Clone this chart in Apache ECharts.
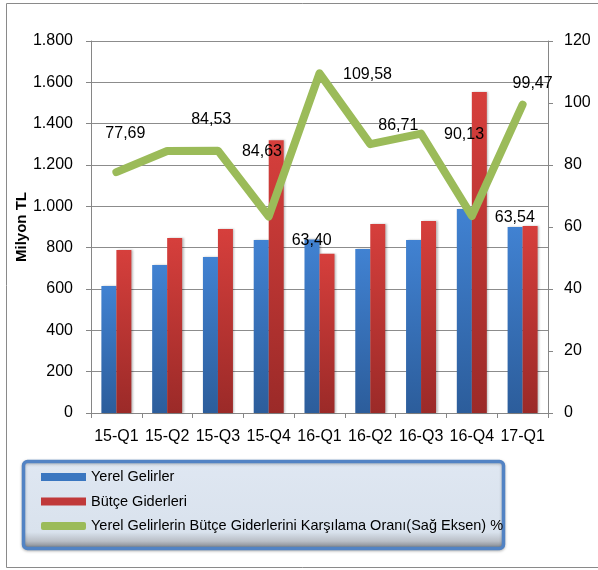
<!DOCTYPE html>
<html>
<head>
<meta charset="utf-8">
<script src="https://cdn.jsdelivr.net/npm/echarts@6/dist/echarts.min.js"></script>
<style>
html,body{margin:0;padding:0;background:#fff;}
#c{width:598px;height:570px;}
</style>
</head>
<body>
<div id="c"></div>
<script>
var categories = ['15-Q1','15-Q2','15-Q3','15-Q4','16-Q1','16-Q2','16-Q3','16-Q4','17-Q1'];
var yerelGelirler = [615, 716, 755, 837, 840, 794, 837, 987, 900];
var butceGiderleri = [789, 847, 890, 1320, 770, 915, 929, 1553, 905];
var karsilamaOrani = [77.69, 84.53, 84.63, 63.40, 109.58, 86.71, 90.13, 63.54, 99.47];
var leftTicks = {min: 0, max: 1800, interval: 200};
var rightTicks = {min: 0, max: 120, interval: 20};
var seriesNames = ['Yerel Gelirler', 'Bütçe Giderleri', 'Yerel Gelirlerin Bütçe Giderlerini Karşılama Oranı(Sağ Eksen) %'];
// label placement (style only, pixel offsets from each point)
var labelOffsets = [[9,-39],[44,-31],[44,1],[43,24],[48,1],[28,-19],[43,1],[43,2],[10,-21]];

var FONT = '"Liberation Sans", Arial, sans-serif';
var chart = echarts.init(document.getElementById('c'), null, {renderer: 'canvas'});

function grad(top, bottom) {
  return new echarts.graphic.LinearGradient(0, 0, 0, 1, [
    {offset: 0, color: top}, {offset: 1, color: bottom}
  ]);
}

var lineData = karsilamaOrani.map(function (v, i) {
  return {value: v, label: {offset: labelOffsets[i]}};
});

var option = {
  animation: false,
  backgroundColor: '#ffffff',
  textStyle: {fontFamily: FONT},
  graphic: [
    {type: 'rect', z: -10, shape: {x: 6.5, y: 3.5, width: 620, height: 564},
     style: {fill: 'none', stroke: '#8a8a8a', lineWidth: 1}},
    {type: 'rect', z: 0, shape: {x: 23.5, y: 461.5, width: 480, height: 87, r: 4},
     style: {fill: new echarts.graphic.LinearGradient(0, 0, 0, 1, [
        {offset: 0, color: '#dfe7f2'}, {offset: 0.8, color: '#d9e2ed'},
        {offset: 0.9, color: '#b9bec6'}, {offset: 1, color: '#6c7077'}]),
       stroke: '#5283c4', lineWidth: 3.5, shadowColor: 'rgba(0,0,0,0.25)', shadowBlur: 3, shadowOffsetY: 1}}
  ],
  grid: {left: 91, right: 50, top: 41, bottom: 157, containLabel: false},
  legend: {
    orient: 'vertical', left: 36, top: 464, z: 5,
    itemWidth: 45, itemHeight: 8, itemGap: 8.5,
    textStyle: {fontSize: 14.5, color: '#000', fontFamily: FONT, lineHeight: 16},
    data: [
      {name: seriesNames[0], icon: 'rect', itemStyle: {color: '#3a76c0'}},
      {name: seriesNames[1], icon: 'rect', itemStyle: {color: '#c0393a'}},
      {name: seriesNames[2], icon: 'roundRect', itemStyle: {color: '#9bbb59'}}
    ]
  },
  xAxis: {
    type: 'category', data: categories,
    axisLine: {lineStyle: {color: '#868686', width: 1}},
    axisTick: {show: true, length: 5, alignWithLabel: false, lineStyle: {color: '#868686'}},
    axisLabel: {color: '#000', fontSize: 16, margin: 16, interval: 0, fontFamily: FONT}
  },
  yAxis: [
    {
      type: 'value', min: leftTicks.min, max: leftTicks.max, interval: leftTicks.interval,
      name: 'Milyon TL', nameLocation: 'middle', nameGap: 62, nameRotate: 90, nameMoveOverlap: false,
      nameTextStyle: {fontSize: 15, fontWeight: 'bold', color: '#000', fontFamily: FONT},
      axisLine: {show: true, lineStyle: {color: '#868686'}},
      axisTick: {show: true, length: 5, lineStyle: {color: '#868686'}},
      axisLabel: {color: '#000', fontSize: 16, margin: 18, fontFamily: FONT,
        formatter: function (v) { return String(v).replace(/\B(?=(\d{3})+(?!\d))/g, '.'); }},
      splitLine: {show: true, lineStyle: {color: '#8c8c8c', width: 1}}
    },
    {
      type: 'value', min: rightTicks.min, max: rightTicks.max, interval: rightTicks.interval,
      position: 'right',
      axisLine: {show: true, lineStyle: {color: '#868686'}},
      axisTick: {show: true, length: 5, lineStyle: {color: '#868686'}},
      axisLabel: {color: '#000', fontSize: 16, margin: 16, fontFamily: FONT},
      splitLine: {show: false}
    }
  ],
  series: [
    {
      name: seriesNames[0], type: 'bar', yAxisIndex: 0, data: yerelGelirler,
      barWidth: 15, barGap: '0%',
      itemStyle: {color: grad('#4182d2', '#2c5d9b'), shadowColor: 'rgba(0,0,0,0.25)', shadowBlur: 2, shadowOffsetX: 1.5}
    },
    {
      name: seriesNames[1], type: 'bar', yAxisIndex: 0, data: butceGiderleri,
      barWidth: 15, barGap: '0%',
      itemStyle: {color: grad('#d63f3c', '#9b2a28'), shadowColor: 'rgba(0,0,0,0.25)', shadowBlur: 2, shadowOffsetX: 1.5}
    },
    {
      name: seriesNames[2], type: 'line', yAxisIndex: 1, data: lineData, z: 10,
      symbol: 'circle', symbolSize: 0.1, showSymbol: true,
      itemStyle: {color: '#9bbb59'},
      lineStyle: {color: '#9bbb59', width: 8, cap: 'round', join: 'round'},
      label: {show: true, position: 'inside', color: '#000', fontSize: 16, fontFamily: FONT,
        formatter: function (p) { return p.value.toFixed(2).replace('.', ','); }}
    }
  ]
};
chart.setOption(option);
</script>
</body>
</html>
